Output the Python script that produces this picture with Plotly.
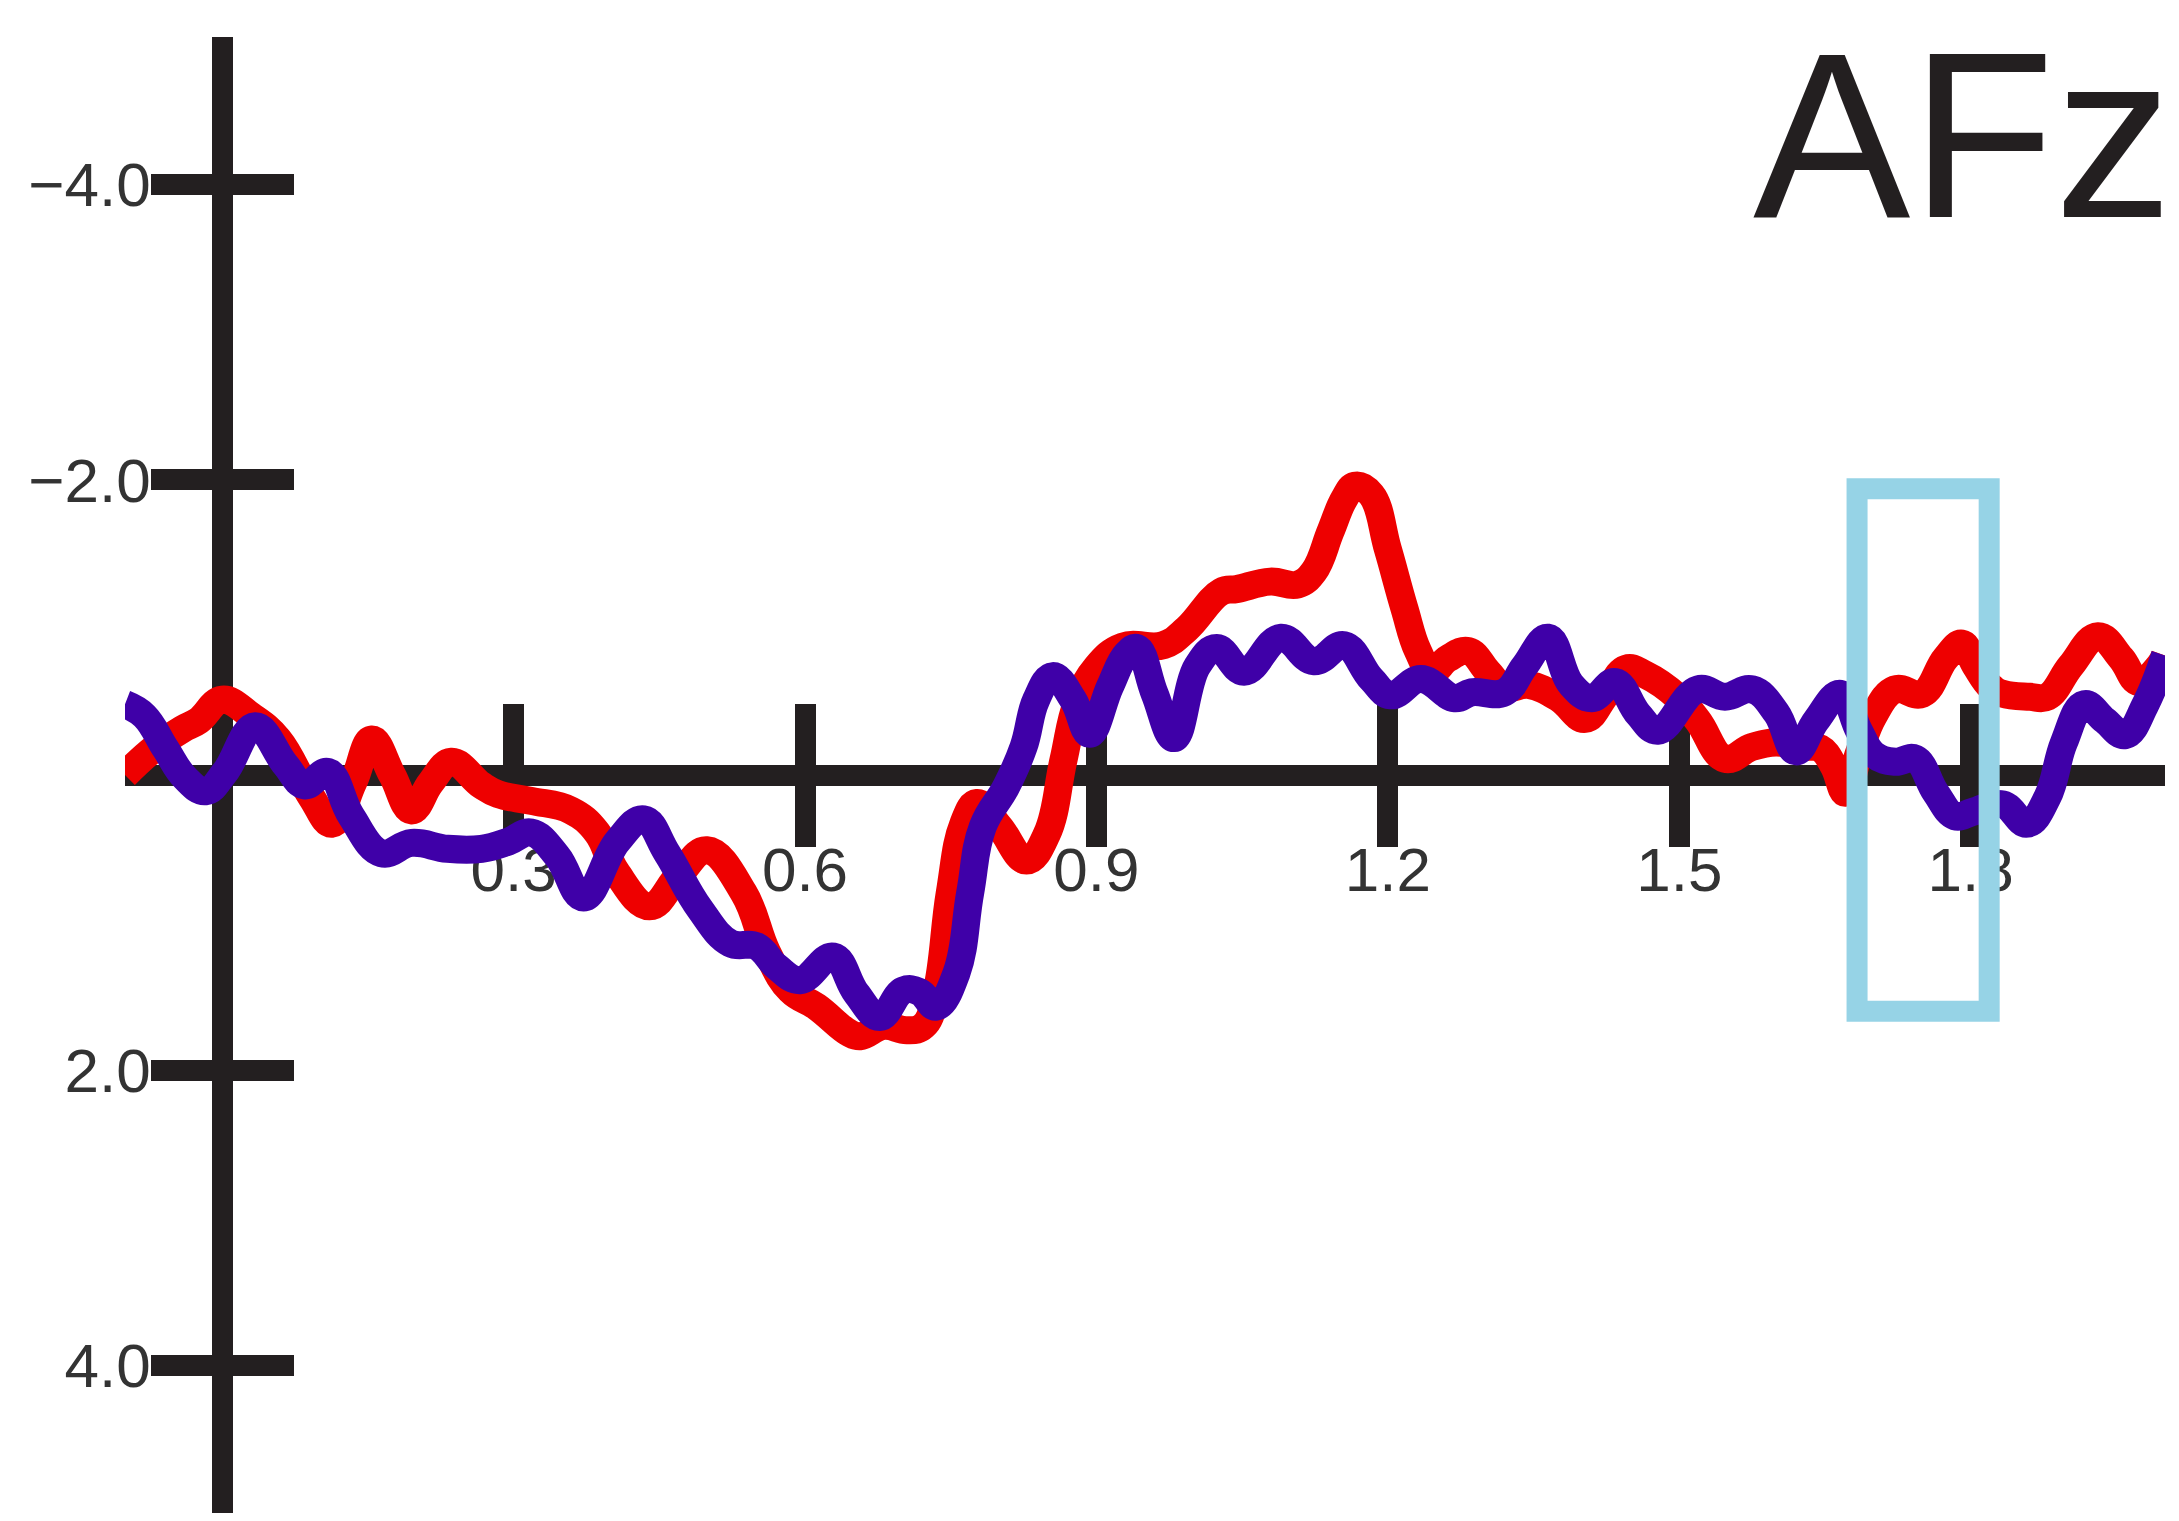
import plotly.graph_objects as go

# Grand-average ERP at electrode AFz (negative plotted upward)
time_s = [
    -0.100, -0.070, -0.041, -0.024, 0.000, 0.030, 0.058, 0.092, 0.113, 0.135,
    0.154, 0.175, 0.195, 0.215, 0.236, 0.267, 0.284, 0.318, 0.359, 0.386,
    0.406, 0.440, 0.470, 0.499, 0.537, 0.561, 0.585, 0.612, 0.646, 0.657,
    0.681, 0.705, 0.722, 0.735, 0.749, 0.763, 0.777, 0.800, 0.828, 0.849,
    0.866, 0.880, 0.900, 0.927, 0.969, 0.993, 1.028, 1.045, 1.079, 1.107,
    1.124, 1.141, 1.155, 1.166, 1.183, 1.200, 1.217, 1.231, 1.245, 1.262,
    1.283, 1.303, 1.320, 1.345, 1.376, 1.403, 1.424, 1.445, 1.465, 1.498,
    1.519, 1.547, 1.575, 1.600, 1.624, 1.645, 1.659, 1.671, 1.685, 1.700,
    1.722, 1.750, 1.774, 1.791, 1.805, 1.820, 1.833, 1.861, 1.879, 1.903,
    1.931, 1.955, 1.973, 1.994, 2.000,
]
red_uv = [
    0.00, -0.18, -0.31, -0.37, -0.51, -0.40, -0.24, 0.15, 0.33, 0.05,
    -0.24, 0.00, 0.24, 0.05, -0.09, 0.07, 0.13, 0.175, 0.24, 0.39,
    0.66, 0.89, 0.68, 0.51, 0.80, 1.20, 1.46, 1.57, 1.75, 1.77,
    1.70, 1.73, 1.70, 1.48, 0.80, 0.33, 0.19, 0.35, 0.58, 0.40,
    -0.10, -0.49, -0.73, -0.87, -0.88, -0.99, -1.24, -1.26, -1.31, -1.29,
    -1.38, -1.65, -1.87, -1.96, -1.90, -1.53, -1.13, -0.84, -0.70, -0.79,
    -0.84, -0.70, -0.59, -0.61, -0.52, -0.38, -0.54, -0.72, -0.68, -0.53,
    -0.37, -0.11, -0.19, -0.22, -0.19, -0.18, -0.06, 0.12, -0.15, -0.40,
    -0.58, -0.55, -0.79, -0.89, -0.74, -0.60, -0.55, -0.53, -0.53, -0.74,
    -0.94, -0.79, -0.63, -0.74, -0.81,
]

time_p = [
    -0.100, -0.080, -0.058, -0.038, -0.017, 0.003, 0.034, 0.065, 0.085, 0.109,
    0.133, 0.164, 0.195, 0.232, 0.267, 0.295, 0.318, 0.345, 0.372, 0.407,
    0.434, 0.458, 0.492, 0.523, 0.550, 0.571, 0.595, 0.629, 0.653, 0.677,
    0.701, 0.718, 0.735, 0.756, 0.770, 0.783, 0.807, 0.825, 0.838, 0.855,
    0.876, 0.893, 0.914, 0.931, 0.942, 0.960, 0.980, 1.004, 1.024, 1.052,
    1.090, 1.124, 1.155, 1.183, 1.203, 1.234, 1.269, 1.286, 1.320, 1.341,
    1.365, 1.389, 1.410, 1.434, 1.458, 1.478, 1.519, 1.547, 1.575, 1.600,
    1.620, 1.641, 1.666, 1.685, 1.700, 1.722, 1.743, 1.764, 1.784, 1.802,
    1.833, 1.858, 1.879, 1.896, 1.917, 1.938, 1.959, 1.980, 2.000,
]
purple_uv = [
    -0.48, -0.40, -0.175, 0.02, 0.11, -0.02, -0.33, -0.07, 0.07, -0.02,
    0.28, 0.53, 0.46, 0.50, 0.50, 0.45, 0.39, 0.55, 0.83, 0.45,
    0.30, 0.53, 0.91, 1.14, 1.16, 1.30, 1.39, 1.23, 1.48, 1.64,
    1.46, 1.47, 1.57, 1.34, 0.80, 0.35, 0.08, -0.19, -0.51, -0.67,
    -0.51, -0.28, -0.60, -0.82, -0.86, -0.55, -0.25, -0.74, -0.86, -0.70,
    -0.93, -0.77, -0.88, -0.65, -0.54, -0.65, -0.52, -0.56, -0.56, -0.74,
    -0.93, -0.61, -0.52, -0.63, -0.41, -0.30, -0.58, -0.53, -0.58, -0.42,
    -0.16, -0.37, -0.55, -0.30, -0.14, -0.09, -0.11, 0.12, 0.28, 0.25,
    0.20, 0.33, 0.15, -0.22, -0.48, -0.37, -0.27, -0.48, -0.81,
]

x_ticks = [0.3, 0.6, 0.9, 1.2, 1.5, 1.8]
y_ticks = [-4.0, -2.0, 2.0, 4.0]
window = (1.683, 1.819, -1.94, 1.60)  # highlighted time window (s, µV)

X_RANGE = [-0.1, 2.0]
Y_RANGE = [5, -5]
AXIS_COLOR = "#231f20"
LABEL_FONT = dict(family="Liberation Sans, Arial", size=62, color="#333333")

# paper positions of the zero crossings, so the axes cross at (0, 0)
x0_pos = (0 - X_RANGE[0]) / (X_RANGE[1] - X_RANGE[0])
y0_pos = (Y_RANGE[0] - 0) / (Y_RANGE[0] - Y_RANGE[1])

fig = go.Figure()
fig.add_trace(go.Scatter(
    x=time_s, y=red_uv, mode="lines",
    line=dict(color="#ee0000", width=28, shape="spline", smoothing=1.2),
    showlegend=False, hoverinfo="skip"))
fig.add_trace(go.Scatter(
    x=time_p, y=purple_uv, mode="lines",
    line=dict(color="#3f00a8", width=28, shape="spline", smoothing=1.2),
    showlegend=False, hoverinfo="skip"))
# empty trace on the mirrored axes so their ticks are drawn
fig.add_trace(go.Scatter(x=[None], y=[None], xaxis="x2", yaxis="y2",
                         showlegend=False, hoverinfo="skip"))

common = dict(ticks="outside", tickwidth=21, tickcolor=AXIS_COLOR, automargin=False,
              showgrid=False, zeroline=False, layer="below traces")

fig.update_layout(
    width=2179, height=1521,
    margin=dict(l=125, r=14, t=37, b=8),
    paper_bgcolor="white", plot_bgcolor="white",
    xaxis=dict(range=X_RANGE, anchor="free", position=y0_pos,
               showline=True, linewidth=21, linecolor=AXIS_COLOR, ticklen=61,
               tickvals=x_ticks, ticktext=[f"{v:.1f}" for v in x_ticks],
               tickfont=LABEL_FONT, ticklabelstandoff=-30, **common),
    xaxis2=dict(range=X_RANGE, overlaying="x", matches="x", side="top",
                anchor="free", position=y0_pos, showline=False, ticklen=71,
                tickvals=x_ticks, showticklabels=False, **common),
    yaxis=dict(range=Y_RANGE, anchor="free", position=x0_pos,
               showline=True, linewidth=21, linecolor=AXIS_COLOR, ticklen=61,
               tickvals=y_ticks, tickformat=".1f",
               tickfont=LABEL_FONT, ticklabelstandoff=-12, **common),
    yaxis2=dict(range=Y_RANGE, overlaying="y", matches="y", side="right",
                anchor="free", position=x0_pos, showline=False, ticklen=71,
                tickvals=y_ticks, showticklabels=False, **common),
)

fig.add_shape(type="rect", xref="x", yref="y",
              x0=window[0], x1=window[1], y0=window[2], y1=window[3],
              line=dict(color="#96d3e6", width=21), fillcolor="rgba(0,0,0,0)",
              layer="above")

fig.add_annotation(text="AFz", xref="paper", yref="paper", x=1.0, y=1.0,
                   xanchor="right", yanchor="top", showarrow=False,
                   xshift=10, yshift=36,
                   font=dict(family="Liberation Sans, Arial", size=236, color=AXIS_COLOR))

fig.write_html("out.html")
